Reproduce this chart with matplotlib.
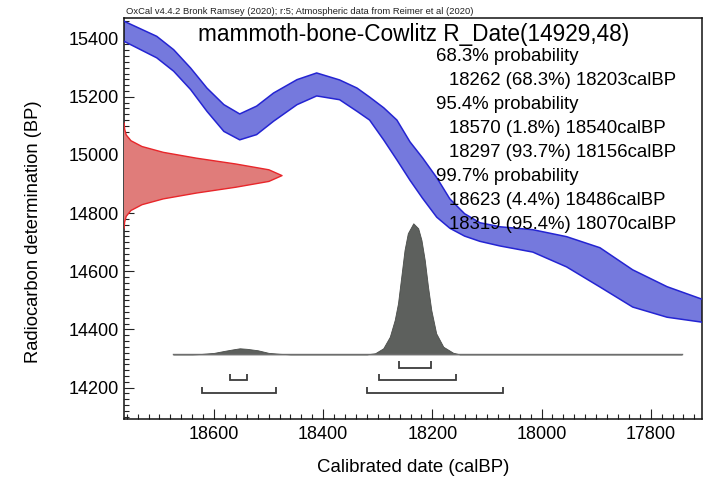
import numpy as np
import matplotlib
matplotlib.use("Agg")
import matplotlib.pyplot as plt
from matplotlib.ticker import MultipleLocator, FixedLocator
import matplotlib.transforms as mtransforms

plt.rcParams['font.family'] = ['Liberation Sans', 'DejaVu Sans']

# ---------------- data ----------------
# Calibration curve band (IntCal20), cal BP vs 14C BP upper / lower edge
cal_bp = [18765, 18705, 18674, 18643, 18613, 18582, 18553, 18522, 18491, 18448,
          18412, 18370, 18338, 18315, 18289, 18265, 18241, 18218, 18192, 18168,
          18141, 18113, 18076, 18016, 17954, 17893, 17833, 17770, 17706]
curve_upper = [15460, 15408, 15362, 15299, 15230, 15173, 15141, 15168, 15213, 15259,
               15282, 15258, 15230, 15199, 15162, 15120, 15045, 14990, 14922, 14849,
               14798, 14767, 14753, 14743, 14719, 14681, 14605, 14547, 14504]
curve_lower = [15391, 15334, 15288, 15225, 15150, 15081, 15052, 15070, 15116, 15173,
               15203, 15190, 15150, 15120, 15051, 14983, 14913, 14851, 14786, 14748,
               14721, 14703, 14687, 14666, 14615, 14546, 14477, 14442, 14425]

# Radiocarbon measurement R_Date(14929,48): 14C BP vs relative probability
r_c14 = [14749, 14769, 14789, 14809, 14829, 14849, 14869, 14889, 14909, 14929,
         14949, 14969, 14989, 15009, 15029, 15049, 15069, 15089, 15109]
r_prob = [0.001, 0.004, 0.014, 0.044, 0.114, 0.249, 0.458, 0.707, 0.917, 1.0,
          0.917, 0.707, 0.458, 0.249, 0.114, 0.044, 0.014, 0.004, 0.001]

# Calibrated date distribution: cal BP vs relative probability
cal_dist_bp = [18675, 18640, 18626, 18600, 18580, 18565, 18553, 18540, 18520, 18500,
               18480, 18460, 18320, 18305, 18290, 18278, 18269, 18263, 18257, 18251,
               18245, 18235, 18226, 18220, 18214, 18208, 18202, 18193, 18180, 18162,
               18150, 17743]
cal_dist_prob = [0.0, 0.0, 0.002, 0.011, 0.027, 0.038, 0.046, 0.042, 0.031, 0.011,
                 0.004, 0.0, 0.0, 0.008, 0.046, 0.134, 0.262, 0.389, 0.592, 0.796,
                 0.924, 1.0, 0.962, 0.872, 0.720, 0.516, 0.338, 0.160, 0.058, 0.012,
                 0.0, 0.0]

# Highest posterior density ranges
range_68 = [(18262, 18203)]
range_95 = [(18570, 18540), (18297, 18156)]
range_997 = [(18623, 18486), (18319, 18070)]

header = "OxCal v4.4.2 Bronk Ramsey (2020); r:5; Atmospheric data from Reimer et al (2020)"
title = "mammoth-bone-Cowlitz R_Date(14929,48)"
summary_lines = [
    ("68.3% probability", 0),
    ("18262 (68.3%) 18203calBP", 1),
    ("95.4% probability", 0),
    ("18570 (1.8%) 18540calBP", 1),
    ("18297 (93.7%) 18156calBP", 1),
    ("99.7% probability", 0),
    ("18623 (4.4%) 18486calBP", 1),
    ("18319 (95.4%) 18070calBP", 1),
]
x_ticks = [18600, 18400, 18200, 18000, 17800]
y_ticks = [14200, 14400, 14600, 14800, 15000, 15200, 15400]

# ---------------- layout ----------------
W, H = 709, 479
fig = plt.figure(figsize=(W / 100, H / 100), dpi=100)
ax = fig.add_axes([124 / W, 60 / H, 578 / W, 401 / H])
ax.set_xlim(18765, 17706)
ax.set_ylim(14092, 15471)

# calibration band
ax.fill_between(cal_bp, curve_lower, curve_upper, facecolor='#7579dd',
                edgecolor='none', zorder=2)
ax.plot(cal_bp, curve_upper, color='#2424d2', lw=1.1, zorder=3)
ax.plot(cal_bp, curve_lower, color='#2424d2', lw=1.1, zorder=3)

# ticks & spines
ax.xaxis.set_major_locator(FixedLocator(x_ticks))
ax.yaxis.set_major_locator(FixedLocator(y_ticks))
ax.xaxis.set_minor_locator(MultipleLocator(20))
ax.yaxis.set_minor_locator(MultipleLocator(20))
ax.tick_params(which='both', direction='in', top=False, right=False,
               color='#222222', width=0.8)
ax.tick_params(which='major', length=7, labelsize=13)
ax.tick_params(which='minor', length=3.5)
ax.tick_params(axis='x', which='major', pad=5)
ax.tick_params(axis='y', which='major', pad=3.5)
for s in ax.spines.values():
    s.set_linewidth(1.1)
    s.set_color('#111111')

ax.set_xlabel("Calibrated date (calBP)", fontsize=13.4)
ax.set_ylabel("Radiocarbon determination (BP)", fontsize=13.2)
ax.xaxis.set_label_coords(0.5007, -0.0998)
ax.yaxis.set_label_coords(-0.142, 0.4676)

# calibrated distribution on a twin y-axis (probability units)
GRAY_BASE_FRAC = 0.1613
GRAY_PEAK_FRAC = 0.488
ax2 = ax.twinx()
k = 1.0 / (GRAY_PEAK_FRAC - GRAY_BASE_FRAC)
ax2.set_ylim(-GRAY_BASE_FRAC * k, (1 - GRAY_BASE_FRAC) * k)
ax2.fill_between(cal_dist_bp, 0, cal_dist_prob, facecolor='#5d605d',
                 edgecolor='#4a4d4a', lw=0.6, zorder=2)
ax2.plot([cal_dist_bp[0], cal_dist_bp[-1]], [0, 0], color='#6e6e6e', lw=1.0, zorder=3)
ax2.set_axis_off()

# HPD range brackets (x in data, y in axes fraction)
trans = mtransforms.blended_transform_factory(ax2.transData, ax2.transAxes)
levels = [(range_68, 0.128), (range_95, 0.0965), (range_997, 0.064)]
tick_h = 0.016
for ranges, lev in levels:
    for a, b in ranges:
        ax2.plot([a, a, b, b], [lev + tick_h, lev, lev, lev + tick_h],
                 transform=trans, color='#3c3c3c', lw=1.3, zorder=4,
                 solid_joinstyle='miter', solid_capstyle='butt')

# radiocarbon date distribution on a twin x-axis
RED_PEAK_FRAC = 0.2734
ax3 = ax.twiny()
ax3.set_xlim(0, 1.0 / RED_PEAK_FRAC)
ax3.fill_betweenx(r_c14, 0, r_prob, facecolor='#e07c7a', edgecolor='none', zorder=2)
ax3.plot(r_prob, r_c14, color='#e8262a', lw=1.0, zorder=3)
ax3.set_axis_off()

# texts
fig.text(126 / W, 1 - 16 / H, header, fontsize=6.75, ha='left', va='bottom',
         color='#222222')
fig.text(413.5 / W, 1 - 34 / H, title, fontsize=16.3, ha='center', va='center')
y0 = 56.5
dy = 24.0
for i, (txt, indent) in enumerate(summary_lines):
    x = 436 if indent == 0 else 449
    fig.text(x / W, 1 - (y0 + i * dy) / H, txt, fontsize=13.4,
             ha='left', va='center', zorder=10)

fig.savefig('out.png', dpi=100)
